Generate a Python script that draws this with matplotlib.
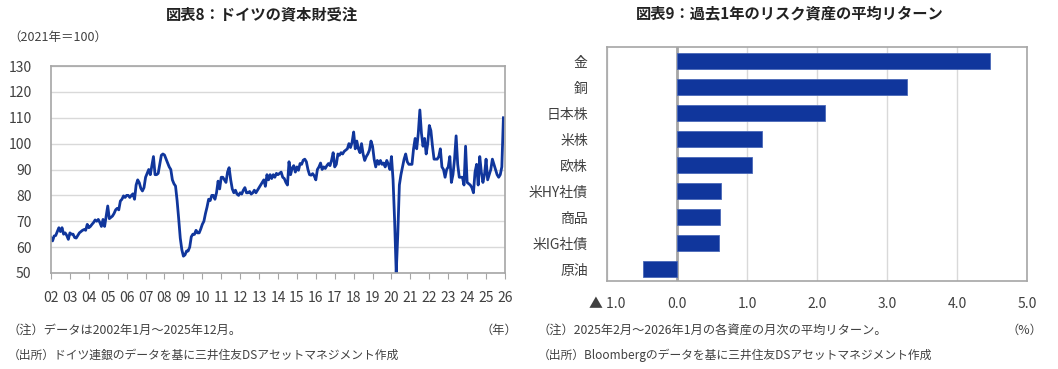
import numpy as np
import matplotlib
matplotlib.use('Agg')
import matplotlib.pyplot as plt

plt.rcParams['font.family'] = ['Noto Sans CJK JP', 'DejaVu Sans']

# ---- left chart: German capital goods orders (2021=100), monthly ----
orders_2002 = [63.7, 62.4, 64.3, 64.5, 66, 67.5, 66, 67.5, 65, 65.5, 64.5, 63]
orders_2003 = [65.5, 65, 65, 63.7, 63.5, 64.5, 65.5, 66, 66.5, 66.8, 66.5, 68.8]
orders_2004 = [67.5, 68, 68.8, 69.5, 70.5, 70, 70.7, 69.5, 68, 70.7, 68, 72]
orders_2005 = [75.9, 71, 71.5, 72, 73, 74.4, 75, 74.4, 77.8, 78.5, 79.8, 79.2]
orders_2006 = [80, 80, 79.2, 80, 80.6, 78.5, 84, 86, 84.9, 82.7, 81.7, 83]
orders_2007 = [87, 88.5, 90, 88, 91.5, 95, 88, 88, 88.5, 92, 95.5, 96]
orders_2008 = [95.6, 94, 92.5, 91, 90, 86, 84.5, 83.6, 78, 71, 63.5, 59]
orders_2009 = [56.5, 57, 58.5, 58.5, 60, 64, 65, 64.9, 66.5, 65.5, 65.5, 67]
orders_2010 = [68.8, 70, 73, 75.5, 78.5, 78, 80, 80, 78.5, 81, 85.5, 82.5]
orders_2011 = [87, 87, 86, 85, 89, 90.7, 86, 82.5, 81, 82, 80.5, 80]
orders_2012 = [81, 80.5, 82, 83, 81, 81, 81.5, 80.5, 81, 82, 81, 82]
orders_2013 = [83, 84, 85, 86, 83.5, 88, 86, 88, 86.5, 88, 87, 88.5]
orders_2014 = [88, 88.5, 89, 87, 86.5, 85, 84, 93, 88, 90.6, 91.5, 89]
orders_2015 = [91, 89.7, 92.3, 92, 93.6, 94, 93, 90, 88, 87.8, 88.4, 87.5]
orders_2016 = [86, 90, 91, 92.5, 90, 91, 90.4, 91.5, 92.3, 91.5, 93.6, 96.5]
orders_2017 = [91, 92, 96, 95.5, 96.5, 96, 97, 97.5, 98, 100, 98.5, 100.5]
orders_2018 = [104.5, 98, 101, 98, 96.5, 100, 96, 93.5, 95, 96, 97.5, 101]
orders_2019 = [99, 94, 91, 93.5, 92, 93.5, 92, 92.5, 91, 93.5, 92, 90]
orders_2020 = [95, 86, 70, 50, 65, 84, 88, 91, 94, 96, 93, 92]
orders_2021 = [92, 92, 98, 102, 98, 104, 113, 104, 99, 102, 96, 100]
orders_2022 = [107, 105, 99, 94, 94, 94, 95, 98, 91, 90, 87, 90]
orders_2023 = [91, 95, 85, 88, 94, 103, 92, 87, 87, 87, 84, 99]
orders_2024 = [85, 84.5, 84, 83, 81, 89, 92, 84, 95, 89, 85, 88]
orders_2025 = [94, 86, 88, 90, 94, 92, 90, 88, 87, 88, 91, 110]

orders = (orders_2002 + orders_2003 + orders_2004 + orders_2005 + orders_2006
          + orders_2007 + orders_2008 + orders_2009 + orders_2010 + orders_2011
          + orders_2012 + orders_2013 + orders_2014 + orders_2015 + orders_2016
          + orders_2017 + orders_2018 + orders_2019 + orders_2020 + orders_2021
          + orders_2022 + orders_2023 + orders_2024 + orders_2025)
months = 2002 + np.arange(len(orders)) / 12
year_ticks = list(range(2002, 2027))
year_labels = [f'{y % 100:02d}' for y in year_ticks]

# ---- right chart: average monthly return over past year (%) ----
assets = ['金', '銅', '日本株', '米株', '欧株', '米HY社債', '商品', '米IG社債', '原油']
returns = [4.47, 3.28, 2.11, 1.21, 1.07, 0.63, 0.61, 0.59, -0.49]
ret_ticks = [-1, 0, 1, 2, 3, 4, 5]
ret_labels = ['▲ 1.0', '0.0', '1.0', '2.0', '3.0', '4.0', '5.0']

navy = '#10369c'
frame = '#a6a6a6'
grid = '#d9d9d9'
txt = '#404040'

fig = plt.figure(figsize=(10.58, 3.69), dpi=100)

# left panel
ax1 = fig.add_axes([0.0482, 0.2602, 0.4291, 0.5609])
ax1.plot(months, orders, color=navy, lw=2.0, solid_joinstyle='round')
ax1.set_xlim(2002, 2026)
ax1.set_ylim(50, 130)
ax1.set_yticks(range(50, 131, 10))
ax1.set_xticks(year_ticks)
ax1.set_xticklabels(year_labels)
ax1.yaxis.grid(True, color=grid, lw=1)
ax1.set_axisbelow(True)
for s in ax1.spines.values():
    s.set_color(frame)
    s.set_linewidth(1.2)
ax1.tick_params(axis='y', length=0, pad=14, labelsize=10, labelcolor=txt)
ax1.tick_params(axis='x', length=4, color=frame, pad=9, labelsize=10, labelcolor=txt)

fig.text(262 / 1058, 1 - 14 / 369, '図表8：ドイツの資本財受注', ha='center', va='center',
         fontsize=11, fontweight='bold', color='#222222')
fig.text(8 / 1058, 1 - 37 / 369, '（2021年＝100）', ha='left', va='center', fontsize=9, color=txt)
fig.text(8 / 1058, 1 - 330 / 369, '（注）データは2002年1月～2025年12月。', ha='left', va='center',
         fontsize=8.8, color=txt)
fig.text(517 / 1058, 1 - 330 / 369, '（年）', ha='right', va='center', fontsize=8.8, color=txt)
fig.text(8 / 1058, 1 - 355 / 369, '（出所）ドイツ連銀のデータを基に三井住友DSアセットマネジメント作成',
         ha='left', va='center', fontsize=8.5, color=txt)

# right panel
ax2 = fig.add_axes([0.574, 0.2393, 0.397, 0.6325])
ypos = np.arange(len(assets))
ax2.barh(ypos, returns, height=0.6, color=navy, edgecolor='#4a68b8', linewidth=0.6, zorder=3)
ax2.set_xlim(-1, 5)
ax2.set_ylim(len(assets) - 0.55, -0.53)
ax2.set_yticks(ypos)
ax2.set_yticklabels(assets)
ax2.set_xticks(ret_ticks)
ax2.set_xticklabels(ret_labels)
ax2.xaxis.grid(True, color=grid, lw=1)
ax2.set_axisbelow(True)
ax2.axvline(0, color=frame, lw=2, zorder=2)
for s in ax2.spines.values():
    s.set_color(frame)
    s.set_linewidth(1.2)
ax2.tick_params(axis='y', length=0, pad=14, labelsize=10, labelcolor=txt)
ax2.tick_params(axis='x', length=0, pad=12, labelsize=10, labelcolor=txt)

fig.text(790 / 1058, 1 - 14 / 369, '図表9：過去1年のリスク資産の平均リターン', ha='center', va='center',
         fontsize=11, fontweight='bold', color='#222222')
fig.text(538 / 1058, 1 - 330 / 369, '（注）2025年2月～2026年1月の各資産の月次の平均リターン。',
         ha='left', va='center', fontsize=8.8, color=txt)
fig.text(1042 / 1058, 1 - 330 / 369, '（%）', ha='right', va='center', fontsize=8.8, color=txt)
fig.text(538 / 1058, 1 - 355 / 369, '（出所）Bloombergのデータを基に三井住友DSアセットマネジメント作成',
         ha='left', va='center', fontsize=8.5, color=txt)

fig.savefig('out.png', dpi=100)
